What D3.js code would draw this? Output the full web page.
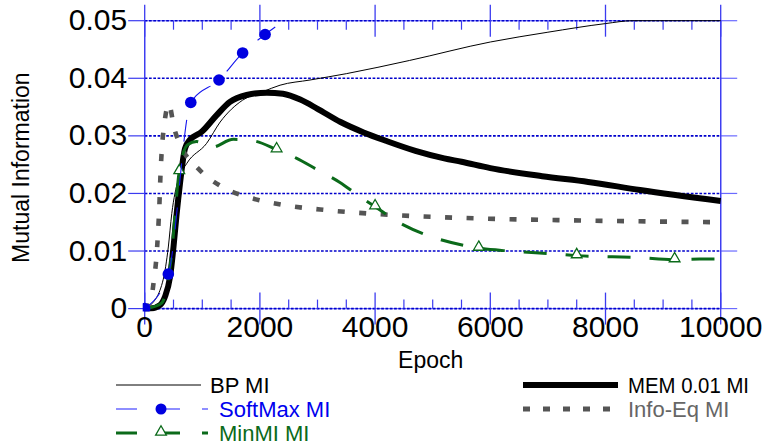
<!DOCTYPE html>
<html>
<head>
<meta charset="utf-8">
<script src="https://cdn.jsdelivr.net/npm/d3@7"></script>
<style>
  body { margin: 0; background: #ffffff; }
  text { font-family: "Liberation Sans", Arial, sans-serif; }
</style>
</head>
<body>
<div id="chart-container"></div>
<script>
// values
const bpEpoch = [0, 100, 320, 410, 470, 580, 730, 1075, 1310, 1700, 2060, 2350, 2870, 3500, 4600, 6000, 7000, 8000, 8470, 10000];
const bpMI = [0, 0.0006, 0.005, 0.0107, 0.0165, 0.0223, 0.0252, 0.0287, 0.0324, 0.0362, 0.0377, 0.0388, 0.0397, 0.0408, 0.0431, 0.0463, 0.048, 0.0495, 0.05, 0.05];

const memEpoch = [0, 100, 265, 350, 440, 500, 555, 610, 700, 785, 990, 1250, 1480, 1770, 2120, 2400, 2700, 3000, 3400, 3800, 4200, 4700, 5200, 5500, 6000, 6900, 7700, 8600, 10000];
const memMI = [0, 0, 0.0006, 0.002, 0.0055, 0.0107, 0.0165, 0.0215, 0.0278, 0.0293, 0.0307, 0.0336, 0.0359, 0.0371, 0.0375, 0.0373, 0.0363, 0.0347, 0.0324, 0.0306, 0.0291, 0.0274, 0.0261, 0.0255, 0.0244, 0.023, 0.022, 0.0206, 0.0187];

const ieEpoch = [0, 100, 160, 200, 230, 255, 275, 300, 340, 420, 510, 640, 930, 1300, 1680, 2000, 2400, 3160, 3900, 4600, 5350, 6450, 7560, 9050, 10000];
const ieMI = [0, 0.001, 0.005, 0.0085, 0.013, 0.018, 0.0235, 0.028, 0.032, 0.0355, 0.0314, 0.028, 0.0243, 0.0214, 0.0197, 0.0188, 0.018, 0.0171, 0.0165, 0.0161, 0.0158, 0.0155, 0.0153, 0.0151, 0.015];

const mmEpoch = [0, 150, 300, 450, 600, 750, 900, 1160, 1540, 1910, 2290, 2640, 2980, 3390, 3700, 4000, 4500, 5000, 5580, 5800, 6340, 7090, 7500, 8120, 8530, 9200, 9630, 10000];
const mmMI = [0, 0.0003, 0.001, 0.008, 0.0238, 0.0285, 0.029, 0.028, 0.0294, 0.0291, 0.0276, 0.0261, 0.0242, 0.0219, 0.0197, 0.0177, 0.0145, 0.0124, 0.0109, 0.0105, 0.01, 0.0095, 0.0092, 0.009, 0.0089, 0.0085, 0.0086, 0.0086];
const mmMarkerEpoch = [600, 2290, 4000, 5800, 7500, 9200];
const mmMarkerMI = [0.0238, 0.0276, 0.0177, 0.0105, 0.0092, 0.0085];

const smEpoch = [0, 410, 800, 1290, 1700, 2090, 2450];
const smMI = [0, 0.006, 0.0358, 0.0397, 0.0444, 0.0476, 0.0502];
const smMarkerEpoch = [0, 410, 800, 1290, 1700, 2090];
const smMarkerMI = [0, 0.006, 0.0358, 0.0397, 0.0444, 0.0476];

const xTicks = [0, 2000, 4000, 6000, 8000, 10000];
const yTicks = [0, 0.01, 0.02, 0.03, 0.04, 0.05];
const yTickLabels = ["0", "0.01", "0.02", "0.03", "0.04", "0.05"];

const zip = (xs, ys) => xs.map((e, i) => ({ epoch: e, mi: ys[i] }));

// Set dimensions and margins for the chart
const fullWidth = 764, fullHeight = 446;
const margin = { top: 20.7, left: 144.7, right: 43.3, bottom: 137.4 };
const width = fullWidth - margin.left - margin.right;
const height = fullHeight - margin.top - margin.bottom;

const axisBlue = "#3b3bf0";
const gridBlue = "#0000cc";

const svg = d3.select("#chart-container")
  .append("svg")
  .attr("width", fullWidth)
  .attr("height", fullHeight);

const g = svg.append("g")
  .attr("transform", `translate(${margin.left},${margin.top})`);

const x = d3.scaleLinear().domain([0, 10000]).range([0, width]);
const y = d3.scaleLinear().domain([0, 0.05]).range([height, 0]);

// frame lines (lighter blue)
g.append("rect")
  .attr("x", 0).attr("y", 0)
  .attr("width", width).attr("height", height)
  .attr("fill", "none")
  .attr("stroke", "#7a7aff")
  .attr("stroke-width", 1.2);

// horizontal dotted gridlines
g.selectAll(".ygrid")
  .data(yTicks)
  .join("line")
  .attr("x1", 0).attr("x2", width)
  .attr("y1", d => y(d)).attr("y2", d => y(d))
  .attr("stroke", gridBlue)
  .attr("stroke-width", 1.6)
  .attr("stroke-dasharray", "2.7,1.6");

// y ticks, outside on both sides
g.selectAll(".ytickL")
  .data(yTicks)
  .join("line")
  .attr("x1", -16.5).attr("x2", 0)
  .attr("y1", d => y(d)).attr("y2", d => y(d))
  .attr("stroke", axisBlue).attr("stroke-width", 1.2);
g.selectAll(".ytickR")
  .data(yTicks)
  .join("line")
  .attr("x1", width).attr("x2", width + 16.5)
  .attr("y1", d => y(d)).attr("y2", d => y(d))
  .attr("stroke", "#6a6aff").attr("stroke-width", 1.2);

// vertical axis lines
[0, width].forEach(px => {
  g.append("line")
    .attr("x1", px).attr("x2", px)
    .attr("y1", 0).attr("y2", height)
    .attr("stroke", axisBlue).attr("stroke-width", 1.3);
});

// x major ticks cross top and bottom
g.selectAll(".xmajB")
  .data(xTicks)
  .join("line")
  .attr("x1", d => x(d)).attr("x2", d => x(d))
  .attr("y1", height - 16).attr("y2", height + 16)
  .attr("stroke", axisBlue).attr("stroke-width", 1.3);
g.selectAll(".xmajT")
  .data(xTicks)
  .join("line")
  .attr("x1", d => x(d)).attr("x2", d => x(d))
  .attr("y1", -16).attr("y2", 16)
  .attr("stroke", axisBlue).attr("stroke-width", 1.3);

// x minor ticks every 500, inside
const minor = d3.range(500, 10000, 500).filter(d => d % 2000 !== 0);
g.selectAll(".xminB")
  .data(minor)
  .join("line")
  .attr("x1", d => x(d)).attr("x2", d => x(d))
  .attr("y1", height - 9).attr("y2", height)
  .attr("stroke", axisBlue).attr("stroke-width", 1.2);
g.selectAll(".xminT")
  .data(minor)
  .join("line")
  .attr("x1", d => x(d)).attr("x2", d => x(d))
  .attr("y1", 0).attr("y2", 9)
  .attr("stroke", axisBlue).attr("stroke-width", 1.2);

// tick labels
g.selectAll(".ylab")
  .data(yTicks)
  .join("text")
  .attr("x", -17.5)
  .attr("y", d => y(d) + 9.5)
  .attr("text-anchor", "end")
  .style("font-size", "30px")
  .attr("fill", "#000")
  .text((d, i) => yTickLabels[i]);

g.selectAll(".xlab")
  .data(xTicks)
  .join("text")
  .attr("x", d => x(d))
  .attr("y", height + 28.5)
  .attr("text-anchor", "middle")
  .style("font-size", "30px")
  .attr("fill", "#000")
  .text(d => d);

// axis titles
svg.append("text")
  .attr("x", margin.left + width / 2 - 2)
  .attr("y", 368)
  .attr("text-anchor", "middle")
  .style("font-size", "23px")
  .text("Epoch");

svg.append("text")
  .attr("transform", `translate(28.5,${margin.top + height / 2 + 3}) rotate(-90)`)
  .attr("text-anchor", "middle")
  .style("font-size", "23px")
  .text("Mutual Information");

// clip the curves to the plot
svg.append("defs").append("clipPath").attr("id", "plotclip")
  .append("rect").attr("x", -2).attr("y", -3).attr("width", width + 4).attr("height", height + 6);

const plot = g.append("g").attr("clip-path", "url(#plotclip)");

const line = d3.line()
  .x(d => x(d.epoch))
  .y(d => y(d.mi))
  .curve(d3.curveMonotoneX);

// BP MI - thin black
plot.append("path")
  .datum(zip(bpEpoch, bpMI))
  .attr("fill", "none").attr("stroke", "#000").attr("stroke-width", 1)
  .attr("d", line);

// MEM 0.01 MI - thick black
plot.append("path")
  .datum(zip(memEpoch, memMI))
  .attr("fill", "none").attr("stroke", "#000").attr("stroke-width", 6)
  .attr("stroke-linejoin", "round")
  .attr("d", line);

// Info-Eq MI - grey square dots
plot.append("path")
  .datum(zip(ieEpoch, ieMI))
  .attr("fill", "none").attr("stroke", "#555").attr("stroke-width", 4.6)
  .attr("stroke-dasharray", "7,14.5")
  .attr("d", line);

// MinMI MI - green dashes with triangles
plot.append("path")
  .datum(zip(mmEpoch, mmMI))
  .attr("fill", "none").attr("stroke", "#0b6a1a").attr("stroke-width", 3)
  .attr("stroke-dasharray", "23,19")
  .attr("d", line);

const tri = d3.symbol().type(d3.symbolTriangle).size(50);
plot.selectAll(".tri")
  .data(zip(mmMarkerEpoch, mmMarkerMI))
  .join("path")
  .attr("transform", d => `translate(${x(d.epoch)},${y(d.mi) - 1})`)
  .attr("d", tri)
  .attr("fill", "#fff").attr("stroke", "#0b6a1a").attr("stroke-width", 1.3);

// SoftMax MI - thin blue dashes with dots
plot.append("path")
  .datum(zip(smEpoch, smMI))
  .attr("fill", "none").attr("stroke", "#1515ee").attr("stroke-width", 1.1)
  .attr("stroke-dasharray", "22,22")
  .attr("d", line);

plot.selectAll(".dot")
  .data(zip(smMarkerEpoch, smMarkerMI))
  .join("circle")
  .attr("cx", d => x(d.epoch)).attr("cy", d => y(d.mi))
  .attr("r", 5.8)
  .attr("fill", "#0000e0");

// legend
const legend = svg.append("g").style("font-size", "22px");

legend.append("line").attr("x1", 116).attr("x2", 201).attr("y1", 385).attr("y2", 385)
  .attr("stroke", "#000").attr("stroke-width", 1);
legend.append("text").attr("x", 210).attr("y", 393).text("BP MI");

legend.append("line").attr("x1", 116).attr("x2", 208).attr("y1", 409).attr("y2", 409)
  .attr("stroke", "#6a6aff").attr("stroke-width", 1.5).attr("stroke-dasharray", "21,22");
legend.append("circle").attr("cx", 161).attr("cy", 409).attr("r", 5.5).attr("fill", "#0000e0");
legend.append("text").attr("x", 219).attr("y", 417).attr("fill", "#0000ee").text("SoftMax MI");

legend.append("line").attr("x1", 116).attr("x2", 208).attr("y1", 433).attr("y2", 433)
  .attr("stroke", "#0b6a1a").attr("stroke-width", 3).attr("stroke-dasharray", "21,22");
legend.append("path").attr("transform", "translate(161,432)").attr("d", tri)
  .attr("fill", "#fff").attr("stroke", "#0b6a1a").attr("stroke-width", 1.3);
legend.append("text").attr("x", 219).attr("y", 441).attr("fill", "#0b6a1a").text("MinMI MI");

legend.append("line").attr("x1", 523).attr("x2", 618).attr("y1", 385).attr("y2", 385)
  .attr("stroke", "#000").attr("stroke-width", 6);
legend.append("text").attr("x", 628).attr("y", 393)
  .attr("textLength", 121).attr("lengthAdjust", "spacingAndGlyphs").text("MEM 0.01 MI");

legend.append("line").attr("x1", 523).attr("x2", 618).attr("y1", 409).attr("y2", 409)
  .attr("stroke", "#555").attr("stroke-width", 5).attr("stroke-dasharray", "7,13");
legend.append("text").attr("x", 628).attr("y", 417).attr("fill", "#666").text("Info-Eq MI");
</script>
</body>
</html>
